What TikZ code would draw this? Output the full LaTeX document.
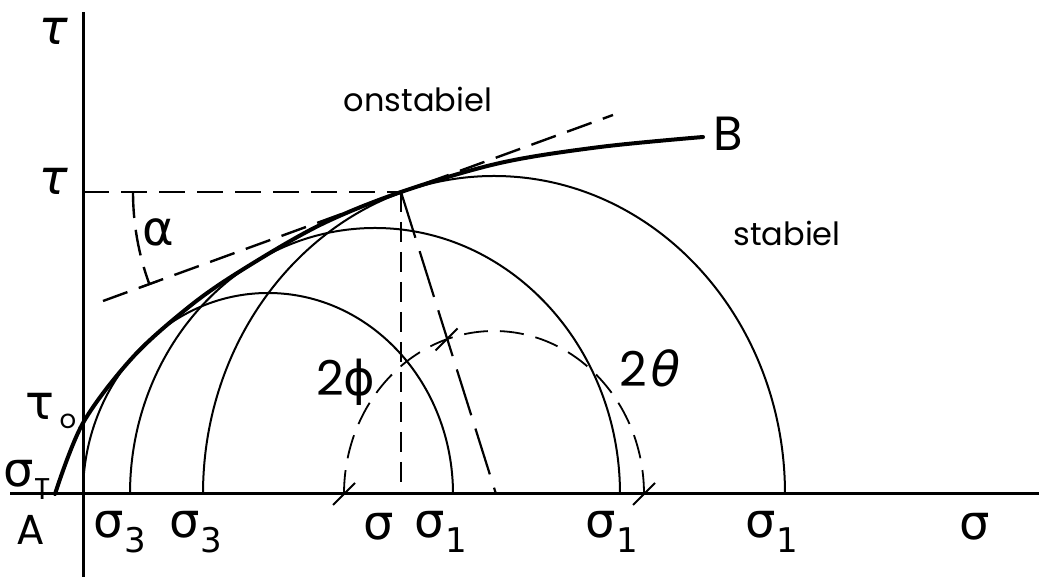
\documentclass[tikz,border=0pt]{standalone}
\usepackage{fontspec}
\setmainfont{Poppins}
\newfontfamily\grk{DejaVu Sans}
\newfontfamily\grki[FakeSlant=0.2]{DejaVu Sans}
\newcommand\sub[1]{\raisebox{-0.6ex}{\fontsize{17}{17}\selectfont #1}}
\begin{document}
\begin{tikzpicture}[x=0.5pt,y=0.5pt,
  axisline/.style={line width=1.5pt},
  circ/.style={line width=1pt},
  env/.style={line width=2pt,line cap=round},
  dsh/.style={line width=1.2pt,dash pattern=on 13pt off 6pt},
  vdsh/.style={line width=1.2pt,dash pattern=on 10pt off 5pt},
  ldsh/.style={line width=1.1pt,dash pattern=on 24pt off 7pt},
  cdsh/.style={line width=0.9pt,dash pattern=on 12pt off 6pt},
  tick/.style={line width=1pt},
  glab/.style={inner sep=0pt,font=\fontsize{24}{28}\selectfont},
  tlab/.style={inner sep=0pt,font=\fontsize{16}{19}\selectfont}]
\useasboundingbox (0,0) rectangle (1039,577);
% coordinates
\coordinate (O) at (83,83);
\coordinate (Ytop) at (83,565);
\coordinate (Ybot) at (83,0);
\coordinate (Xl) at (10,83);
\coordinate (Xr) at (1039,83);
\coordinate (P) at (401,385);
\coordinate (Tau) at (83,385);
\coordinate (S) at (401,83);
\coordinate (C) at (496,83);
\coordinate (TL) at (103,276);
\coordinate (TR) at (613,462);
\coordinate (D1) at (344,83);
\coordinate (D2) at (644,83);
\coordinate (D3) at (446.6,237.6);
% axes
\draw[axisline] (Ybot) -- (Ytop);
\draw[axisline] (Xl) -- (Xr);
% Mohr circles
\draw[circ] (453,83) arc[start angle=0,end angle=180,x radius=92.5pt,y radius=100.5pt];
\draw[circ] (620,83) arc[start angle=0,end angle=180,x radius=122.5pt,y radius=133pt];
\draw[circ] (785,83) arc[start angle=0,end angle=180,x radius=145.5pt,y radius=159pt];
% dashed construction circle
\draw[cdsh] (D2) arc[start angle=0,end angle=180,x radius=75pt,y radius=81.5pt];
\draw[tick] ([shift={(-11,-11)}]D1) -- ([shift={(11,11)}]D1);
\draw[tick] ([shift={(-11,-11)}]D2) -- ([shift={(11,11)}]D2);
\draw[tick] ([shift={(-11,-11)}]D3) -- ([shift={(11,11)}]D3);
% envelope A-B
\draw[env] plot[smooth,tension=0.55] coordinates {(55,83) (83,154) (133,220) (190,271) (242,307) (320,352) (401,385) (500,414) (600,430) (703,440)};
% dashed lines
\draw[dsh] (Tau) -- (P);
\draw[vdsh] (P) -- (S);
\draw[ldsh] (P) -- (C);
\draw[dsh] (TL) -- (TR);
% angle alpha
\draw[dsh] (P) ++(180:134pt) arc[start angle=180,end angle=200.05,radius=134pt];
\draw[tick] (124,385) -- (146,385);
\draw[tick] (140.8,289.7) -- (157.8,295.9);
% labels
\node[glab] (ltau0) at (51,166) {\grk τ\kern2.5pt\raisebox{-0.35ex}{\fontsize{13}{13}\selectfont\rmfamily o}};
\node[glab] (ltauT) at (51,546) {\grki τ};
\node[glab] (ltau) at (51,396) {\grki τ};
\node[glab] (lsigT) at (27,97) {\grk σ\kern0.5pt\raisebox{-0.5ex}{\fontsize{15}{15}\selectfont\rmfamily T}};
\node[glab,font=\fontsize{21}{24}\selectfont] (lA) at (31,47) {A};
\node[glab] (ls3a) at (120,45) {\grk σ\sub{3}};
\node[glab] (ls3b) at (196,45) {\grk σ\sub{3}};
\node[glab] (ls) at (379,50) {\grk σ};
\node[glab] (ls1a) at (441,45) {\grk σ\sub{1}};
\node[glab] (ls1b) at (612,45) {\grk σ\sub{1}};
\node[glab] (ls1c) at (772,45) {\grk σ\sub{1}};
\node[glab] (lsig) at (975,50) {\grk σ};
\node[glab] (lalpha) at (158,345) {\grk α};
\node[glab] (lphi) at (346,195) {2\grk ϕ};
\node[glab] (ltheta) at (648,209) {2\grki θ};
\node[tlab] (lon) at (418,478) {onstabiel};
\node[tlab] (lst) at (787,344) {stabiel};
\node[glab] (lB) at (728,443) {B};
\end{tikzpicture}
\end{document}
